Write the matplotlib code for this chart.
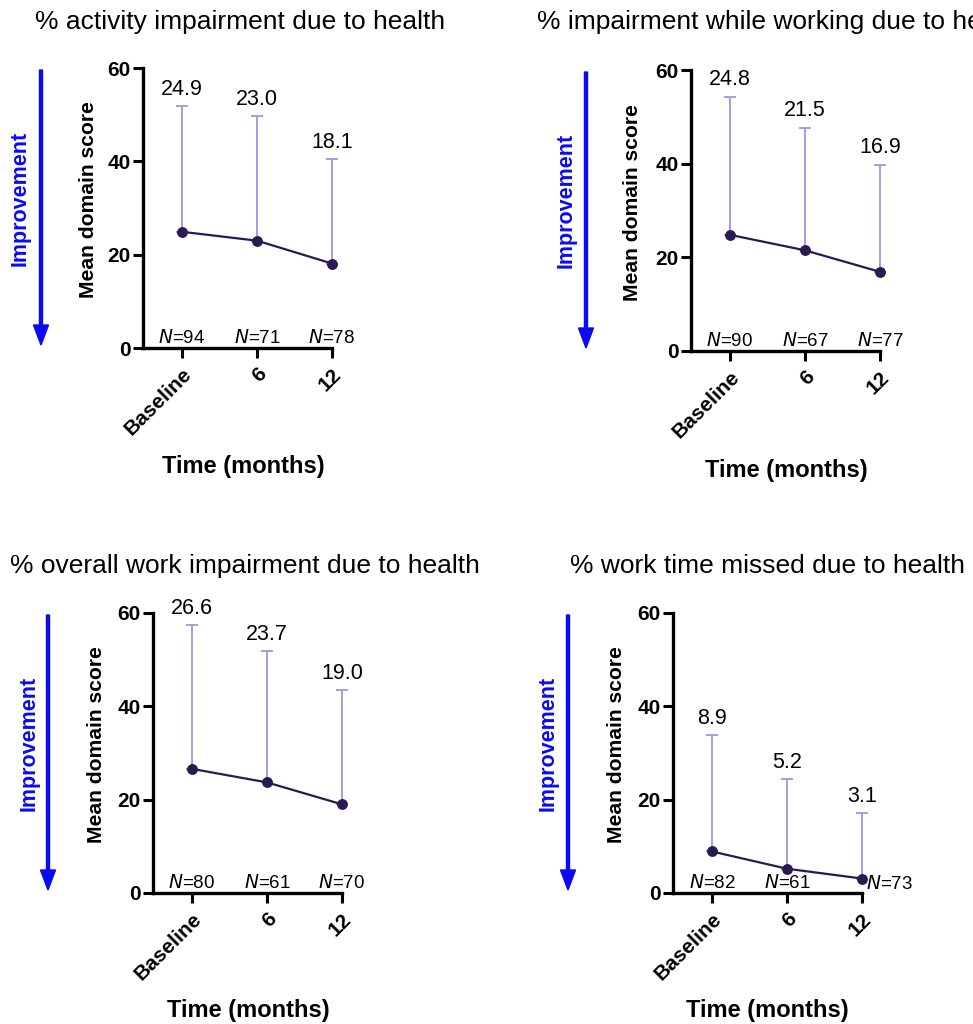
#!/usr/bin/env python3
"""
WPAI domain scores over time - four panel recreation
"""

import matplotlib
matplotlib.use("Agg")
import matplotlib.pyplot as plt

plt.rcParams['font.family'] = ['Liberation Sans', 'DejaVu Sans']

# data
time_labels = ["Baseline", "6", "12"]

titles = [
    "% activity impairment due to health",
    "% impairment while working due to health",
    "% overall work impairment due to health",
    "% work time missed due to health",
]

activity_mean = [24.9, 23.0, 18.1]
activity_sd = [26.9, 26.7, 22.3]
activity_n = [94, 71, 78]

working_mean = [24.8, 21.5, 16.9]
working_sd = [29.5, 26.2, 22.9]
working_n = [90, 67, 77]

overall_mean = [26.6, 23.7, 19.0]
overall_sd = [30.8, 28.2, 24.5]
overall_n = [80, 61, 70]

missed_mean = [8.9, 5.2, 3.1]
missed_sd = [25.0, 19.2, 14.0]
missed_n = [82, 61, 73]

W, H = 973, 1024
NAVY = "#2a1a52"
LAVENDER = "#a79ce2"
BLUE = "#0a0af5"

fig = plt.figure(figsize=(W / 100, H / 100), dpi=100, facecolor='white')


def box(left, y_zero, y_top, width=189):
    """axes rect from pixel coords (top-down)"""
    return [left / W, 1 - y_zero / H, width / W, (y_zero - y_top) / H]


# panel layout: axes box, title pos, arrow x, label x, time label pos
panels = [
    dict(rect=box(143, 348, 68), title=(35, 22), arrow_x=41, label_x=20,
         ylab_x=88, xlab=(243, 467)),
    dict(rect=box(691, 351, 70), title=(537, 22), arrow_x=586, label_x=566,
         ylab_x=632, xlab=(786, 470)),
    dict(rect=box(153, 893, 613), title=(10, 566), arrow_x=48, label_x=29,
         ylab_x=97, xlab=(248, 1010)),
    dict(rect=box(673, 893, 613), title=(570, 566), arrow_x=568, label_x=548,
         ylab_x=616, xlab=(767, 1010)),
]

series = [
    (activity_mean, activity_sd, activity_n),
    (working_mean, working_sd, working_n),
    (overall_mean, overall_sd, overall_n),
    (missed_mean, missed_sd, missed_n),
]

for idx, (p, (means, sds, ns)) in enumerate(zip(panels, series)):
    ax = fig.add_axes(p['rect'])
    x = list(range(len(means)))

    # upper-only error bars
    ax.errorbar(x, means, yerr=[[0] * len(sds), sds], fmt='none',
                ecolor=LAVENDER, elinewidth=1.4, capsize=4, capthick=1.4,
                clip_on=False, zorder=2)
    ax.plot(x, means, color=NAVY, lw=1.6, marker='o', ms=6.8,
            clip_on=False, zorder=3)

    for xi, m, s in zip(x, means, sds):
        ax.annotate(f"{m:.1f}", (xi, m + s), xytext=(0, 4.5),
                    textcoords='offset points', ha='center', va='bottom',
                    fontsize=15.5)

    for xi, n in zip(x, ns):
        if idx == 3 and xi == 2:
            # last label sits to the right of the point
            ax.annotate(f"$\\it{{N}}$=" + str(n), (xi, 0), xytext=(3, 0),
                        textcoords='offset points', ha='left', va='bottom',
                        fontsize=13.5, annotation_clip=False)
        else:
            ax.annotate(f"$\\it{{N}}$=" + str(n), (xi, 0), xytext=(0, 1),
                        textcoords='offset points', ha='center', va='bottom',
                        fontsize=13.5, annotation_clip=False)

    ax.set_xlim(-0.52, 2)
    ax.set_ylim(0, 60)
    ax.set_yticks([0, 20, 40, 60])
    ax.set_xticks(x)
    ax.set_xticklabels(time_labels, rotation=45, ha='right',
                       rotation_mode='anchor', fontweight='bold', fontsize=15)
    for lab in ax.get_yticklabels():
        lab.set_fontweight('bold')
        lab.set_fontsize(15)
    ax.tick_params(axis='both', length=7, width=2.2, direction='out', pad=2)
    ax.tick_params(axis='x', pad=5)
    for side in ['top', 'right']:
        ax.spines[side].set_visible(False)
    for side in ['left', 'bottom']:
        ax.spines[side].set_linewidth(2.4)
    ax.set_facecolor('none')

    # titles and labels in figure pixels
    tx, ty = p['title']
    fig.text(tx / W, 1 - ty / H, titles[idx], ha='left', va='center',
             fontsize=19)
    rect = p['rect']
    y_mid = rect[1] + rect[3] / 2
    fig.text(p['ylab_x'] / W, y_mid + 8 / H, "Mean domain score", rotation=90,
             ha='center', va='center', fontsize=15.2, fontweight='bold')
    fig.text(p['label_x'] / W, y_mid + 10 / H, "Improvement", rotation=90,
             ha='center', va='center', fontsize=15.5, fontweight='bold',
             color=BLUE)
    ax_x = p['arrow_x'] / W
    fig.patches.append(matplotlib.patches.FancyArrow(
        ax_x, rect[1] + rect[3] - 2 / H, 0, -(rect[3] - 5 / H),
        width=3 / W, head_width=15 / W, head_length=20 / H,
        length_includes_head=True, color=BLUE, transform=fig.transFigure))

    xx, xy = p['xlab']
    fig.text(xx / W, 1 - xy / H, "Time (months)", ha='center', va='center',
             fontsize=17, fontweight='bold')

fig.savefig("out.png", dpi=100, facecolor='white')
